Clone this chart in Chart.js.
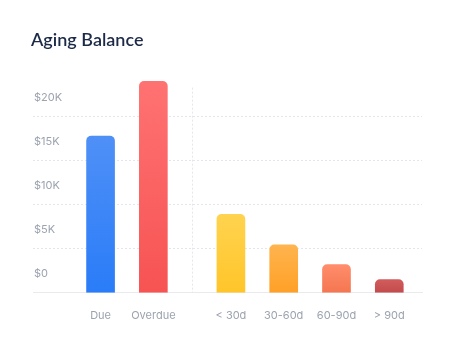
<!DOCTYPE html>
<html>
<head>
<meta charset="utf-8">
<script src="https://cdn.jsdelivr.net/npm/chart.js@4/dist/chart.umd.min.js"></script>
<style>
  html, body { margin: 0; padding: 0; background: #fff; }
  #wrap { width: 452px; height: 348px; position: relative; }
</style>
</head>
<body>
<div id="wrap"><canvas id="chart"></canvas></div>
<script>
// Data
const categories = ['Due', 'Overdue', '< 30d', '30-60d', '60-90d', '> 90d'];
const balances = [17800, 24000, 8900, 5450, 3200, 1500];
const groupOf = [0, 0, 1, 1, 1, 1]; // status vs. aging buckets
const yTicks = [0, 5000, 10000, 15000, 20000];

// bar colours, top -> bottom
const topColors = ['#4f90f7', '#ff7272', '#ffd34f', '#ffb44e', '#ff8d6c', '#d25c5c'];
const bottomColors = ['#2a7cf8', '#f75353', '#ffc52a', '#ffa027', '#f47650', '#c24a4a'];

const GROUP_GAP = 0.47;
const positions = categories.map((c, i) => i + groupOf[i] * GROUP_GAP);

// dotted separator between the two groups
const groupDivider = {
  id: 'groupDivider',
  beforeDatasetsDraw(chart) {
    const { ctx, chartArea, scales } = chart;
    const split = groupOf.indexOf(1);
    const x = Math.round((scales.x.getPixelForValue(positions[split - 1]) +
                          scales.x.getPixelForValue(positions[split])) / 2) + 0.5;
    ctx.save();
    ctx.strokeStyle = '#e3e6ea';
    ctx.lineWidth = 1;
    ctx.setLineDash([2, 2]);
    ctx.beginPath();
    ctx.moveTo(x, chartArea.top + 15);
    ctx.lineTo(x, chartArea.bottom);
    ctx.stroke();
    ctx.restore();
  }
};

const ctx = document.getElementById('chart').getContext('2d');
new Chart(ctx, {
  type: 'bar',
  data: {
    datasets: [{
      data: categories.map((c, i) => ({ x: positions[i], y: balances[i] })),
      barThickness: 28,
      borderRadius: 5,
      backgroundColor: (c) => {
        const i = c.dataIndex;
        const { chartArea, scales } = c.chart;
        if (!chartArea || i === undefined) return bottomColors[i || 0];
        const top = scales.y.getPixelForValue(balances[i]);
        const g = c.chart.ctx.createLinearGradient(0, top, 0, chartArea.bottom);
        g.addColorStop(0, topColors[i]);
        g.addColorStop(1, bottomColors[i]);
        return g;
      }
    }]
  },
  options: {
    responsive: true,
    maintainAspectRatio: false,
    animation: false,
    layout: { padding: { left: 31, right: 30, top: 19, bottom: 10 } },
    plugins: {
      legend: { display: false },
      tooltip: { enabled: false },
      title: {
        display: true,
        text: 'Aging Balance',
        align: 'start',
        color: '#1c2a48',
        font: { family: 'Lato', size: 18, weight: '600' },
        padding: { top: 10, bottom: 22 }
      }
    },
    scales: {
      x: {
        type: 'linear',
        offset: false,
        min: positions[0] - 1.28,
        max: positions[positions.length - 1] + 0.62,
        afterBuildTicks: (s) => { s.ticks = positions.map(v => ({ value: v })); },
        ticks: {
          autoSkip: false,
          maxRotation: 0,
          padding: 16,
          color: '#9ca3af',
          font: { family: 'Inter', size: 11 },
          callback: (v, i) => categories[i]
        },
        grid: { display: false, drawTicks: false, offset: false },
        border: { display: true, color: '#e8eaed', width: 1 }
      },
      y: {
        min: 0,
        max: 25000,
        afterBuildTicks: (s) => { s.ticks = yTicks.map(v => ({ value: v })); },
        ticks: {
          mirror: true,
          padding: 1,
          labelOffset: -19,
          color: '#9ca3af',
          font: { family: 'Inter', size: 11 },
          callback: (v) => '$' + (v / 1000) + (v ? 'K' : '')
        },
        grid: {
          drawTicks: false,
          color: (c) => c.tick && c.tick.value === 0 ? 'rgba(0,0,0,0)' : '#e3e6ea'
        },
        border: { display: false, dash: [2, 2] }
      }
    }
  },
  plugins: [groupDivider]
});
</script>
</body>
</html>
